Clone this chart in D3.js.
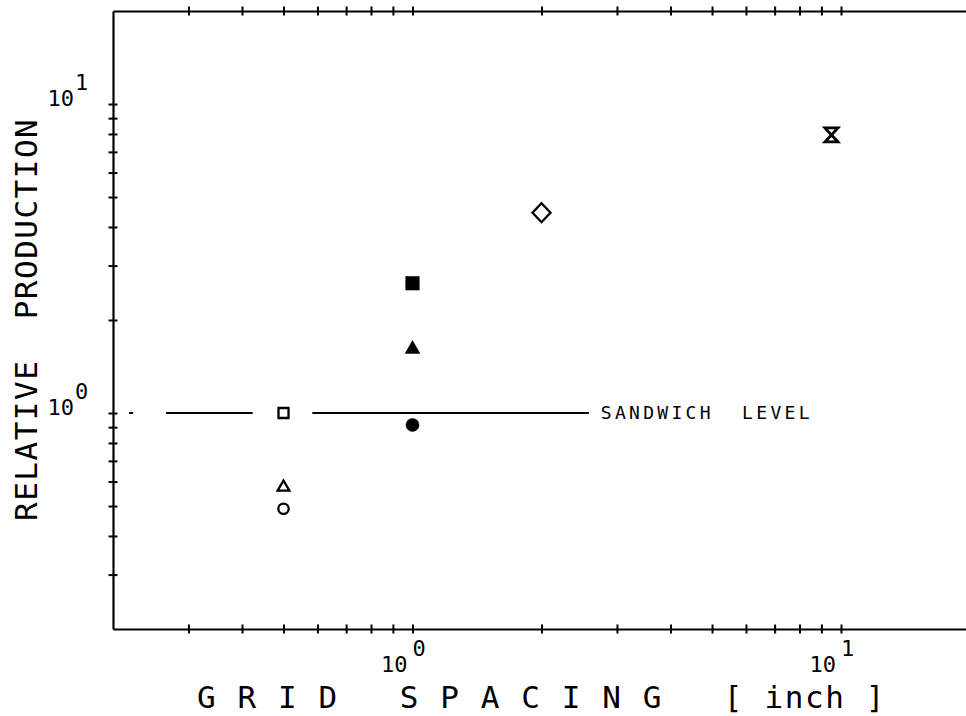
<!DOCTYPE html>
<html>
<head>
<meta charset="utf-8">
<script src="https://cdn.jsdelivr.net/npm/d3@7"></script>
<style>
  html, body { margin: 0; padding: 0; background: #fff; }
  svg { display: block; }
  text { font-family: "DejaVu Sans Mono", monospace; fill: #000; }
</style>
</head>
<body>
<svg id="chart" width="966" height="716"></svg>
<script>
// --- data ---
const markerNames = ["open square", "open triangle", "open circle", "filled circle",
                     "filled triangle", "filled square", "open diamond", "hourglass"];
const xValues = [0.5, 0.5, 0.5, 1.0, 1.0, 1.0, 2.0, 9.5];
const yValues = [1.0, 0.575, 0.49, 0.915, 1.61, 2.63, 4.45, 7.94];
const markerShapes = ["square", "triangle", "circle", "circle", "triangle", "square", "diamond", "hourglass"];
const markerFilled = [false, false, false, true, true, true, false, false];

// sandwich reference level (y = 1), drawn in broken pieces
const sandwichLevel = 1.0;
const sandwichStarts = [0.219, 0.267, 0.586];
const sandwichEnds = [0.222, 0.422, 2.57];
const sandwichLabel = "SANDWICH  LEVEL";
const sandwichLabelX = 2.75;

const xDomain = [0.2, 20];
const yDomain = [0.2, 20];
const xTicks = [0.3, 0.4, 0.5, 0.6, 0.7, 0.8, 0.9, 1, 2, 3, 4, 5, 6, 7, 8, 9, 10];
const yTicks = [0.3, 0.4, 0.5, 0.6, 0.7, 0.8, 0.9, 1, 2, 3, 4, 5, 6, 7, 8, 9, 10];
const xLabelTicks = [1, 10];
const xLabelExps = ["0", "1"];
const yLabelTicks = [1, 10];
const yLabelExps = ["0", "1"];
const xTitle = "G R I D   S P A C I N G   [ inch ]";
const yTitle = "RELATIVE  PRODUCTION";

const svg = d3.select("#chart");

// plot frame: the right edge falls just outside the picture
const frame = { left: 113, right: 970, top: 11, bottom: 629 };

const x = d3.scaleLog().domain(xDomain).range([frame.left, frame.right]);
const y = d3.scaleLog().domain(yDomain).range([frame.bottom, frame.top]);

// --- axes, ticks drawn as small crosses through the frame ---
function crossTicks(g, horizontal) {
  g.select(".domain").attr("stroke", "#000").attr("stroke-width", 2.2);
  g.selectAll(".tick line")
    .attr("stroke", "#000")
    .attr("stroke-width", 2)
    .attr(horizontal ? "y1" : "x1", -4.5)
    .attr(horizontal ? "y2" : "x2", 4.5);
  g.selectAll(".tick text").remove();
}

svg.append("g")
  .attr("transform", `translate(0,${frame.bottom})`)
  .call(d3.axisBottom(x).tickValues(xTicks).tickSizeOuter(0).tickFormat(""))
  .call(g => crossTicks(g, true));

svg.append("g")
  .attr("transform", `translate(0,${frame.top})`)
  .call(d3.axisTop(x).tickValues(xTicks).tickSizeOuter(0).tickFormat(""))
  .call(g => crossTicks(g, true));

svg.append("g")
  .attr("transform", `translate(${frame.left},0)`)
  .call(d3.axisLeft(y).tickValues(yTicks).tickSizeOuter(0).tickFormat(""))
  .call(g => crossTicks(g, false));

// --- tick labels 10^n ---
const xLab = svg.append("g").selectAll("g")
  .data(xLabelTicks)
  .join("g")
  .attr("transform", d => `translate(${x(d)},0)`);
xLab.append("text")
  .attr("x", -5).attr("y", 672)
  .attr("text-anchor", "end")
  .attr("font-size", 22)
  .text("10");
xLab.append("text")
  .attr("x", 0).attr("y", 656)
  .attr("font-size", 22)
  .text((d, i) => xLabelExps[i]);

const yLab = svg.append("g").selectAll("g")
  .data(yLabelTicks)
  .join("g")
  .attr("transform", d => `translate(0,${y(d)})`);
yLab.append("text")
  .attr("x", 74).attr("y", 2)
  .attr("text-anchor", "end")
  .attr("font-size", 22)
  .text("10");
yLab.append("text")
  .attr("x", 75).attr("y", -14)
  .attr("font-size", 22)
  .text((d, i) => yLabelExps[i]);

// --- axis titles ---
svg.append("text")
  .attr("x", 197).attr("y", 708)
  .attr("font-size", 31)
  .attr("letter-spacing", 1.6)
  .style("white-space", "pre")
  .text(xTitle);

svg.append("text")
  .attr("transform", "translate(37,521) rotate(-90)")
  .attr("font-size", 31)
  .attr("letter-spacing", 1.5)
  .style("white-space", "pre")
  .text(yTitle);

// --- sandwich level line ---
svg.append("g").selectAll("line")
  .data(sandwichStarts)
  .join("line")
  .attr("x1", d => x(d))
  .attr("x2", (d, i) => x(sandwichEnds[i]))
  .attr("y1", y(sandwichLevel))
  .attr("y2", y(sandwichLevel))
  .attr("stroke", "#000")
  .attr("stroke-width", 2)
  .attr("stroke-linecap", "round");

svg.append("text")
  .attr("x", x(sandwichLabelX))
  .attr("y", y(sandwichLevel) + 6)
  .attr("font-size", 18)
  .attr("letter-spacing", 3.3)
  .style("white-space", "pre")
  .text(sandwichLabel);

// --- markers ---
const symbolFor = (shape, filled) => {
  if (shape === "square") return d3.symbol(d3.symbolSquare, filled ? 185 : 100)();
  if (shape === "triangle") return d3.symbol(d3.symbolTriangle, filled ? 95 : 60)();
  if (shape === "circle") return d3.symbol(d3.symbolCircle, filled ? 135 : 85)();
  if (shape === "diamond") return "M0,-9.5L9,0L0,9.5L-9,0Z";
  if (shape === "hourglass") return "M-6.5,-7L6.5,-7L-6.5,7L6.5,7Z";
  return "";
};

svg.append("g").selectAll("path")
  .data(markerNames)
  .join("path")
  .attr("transform", (d, i) => `translate(${x(xValues[i])},${y(yValues[i])})`)
  .attr("d", (d, i) => symbolFor(markerShapes[i], markerFilled[i]))
  .attr("fill", (d, i) => markerFilled[i] ? "#000" : "none")
  .attr("stroke", "#000")
  .attr("stroke-width", (d, i) => markerFilled[i] ? 0.5 : (markerShapes[i] === "hourglass" ? 2.8 : 2.3))
  .attr("stroke-linejoin", "miter");
</script>
</body>
</html>
